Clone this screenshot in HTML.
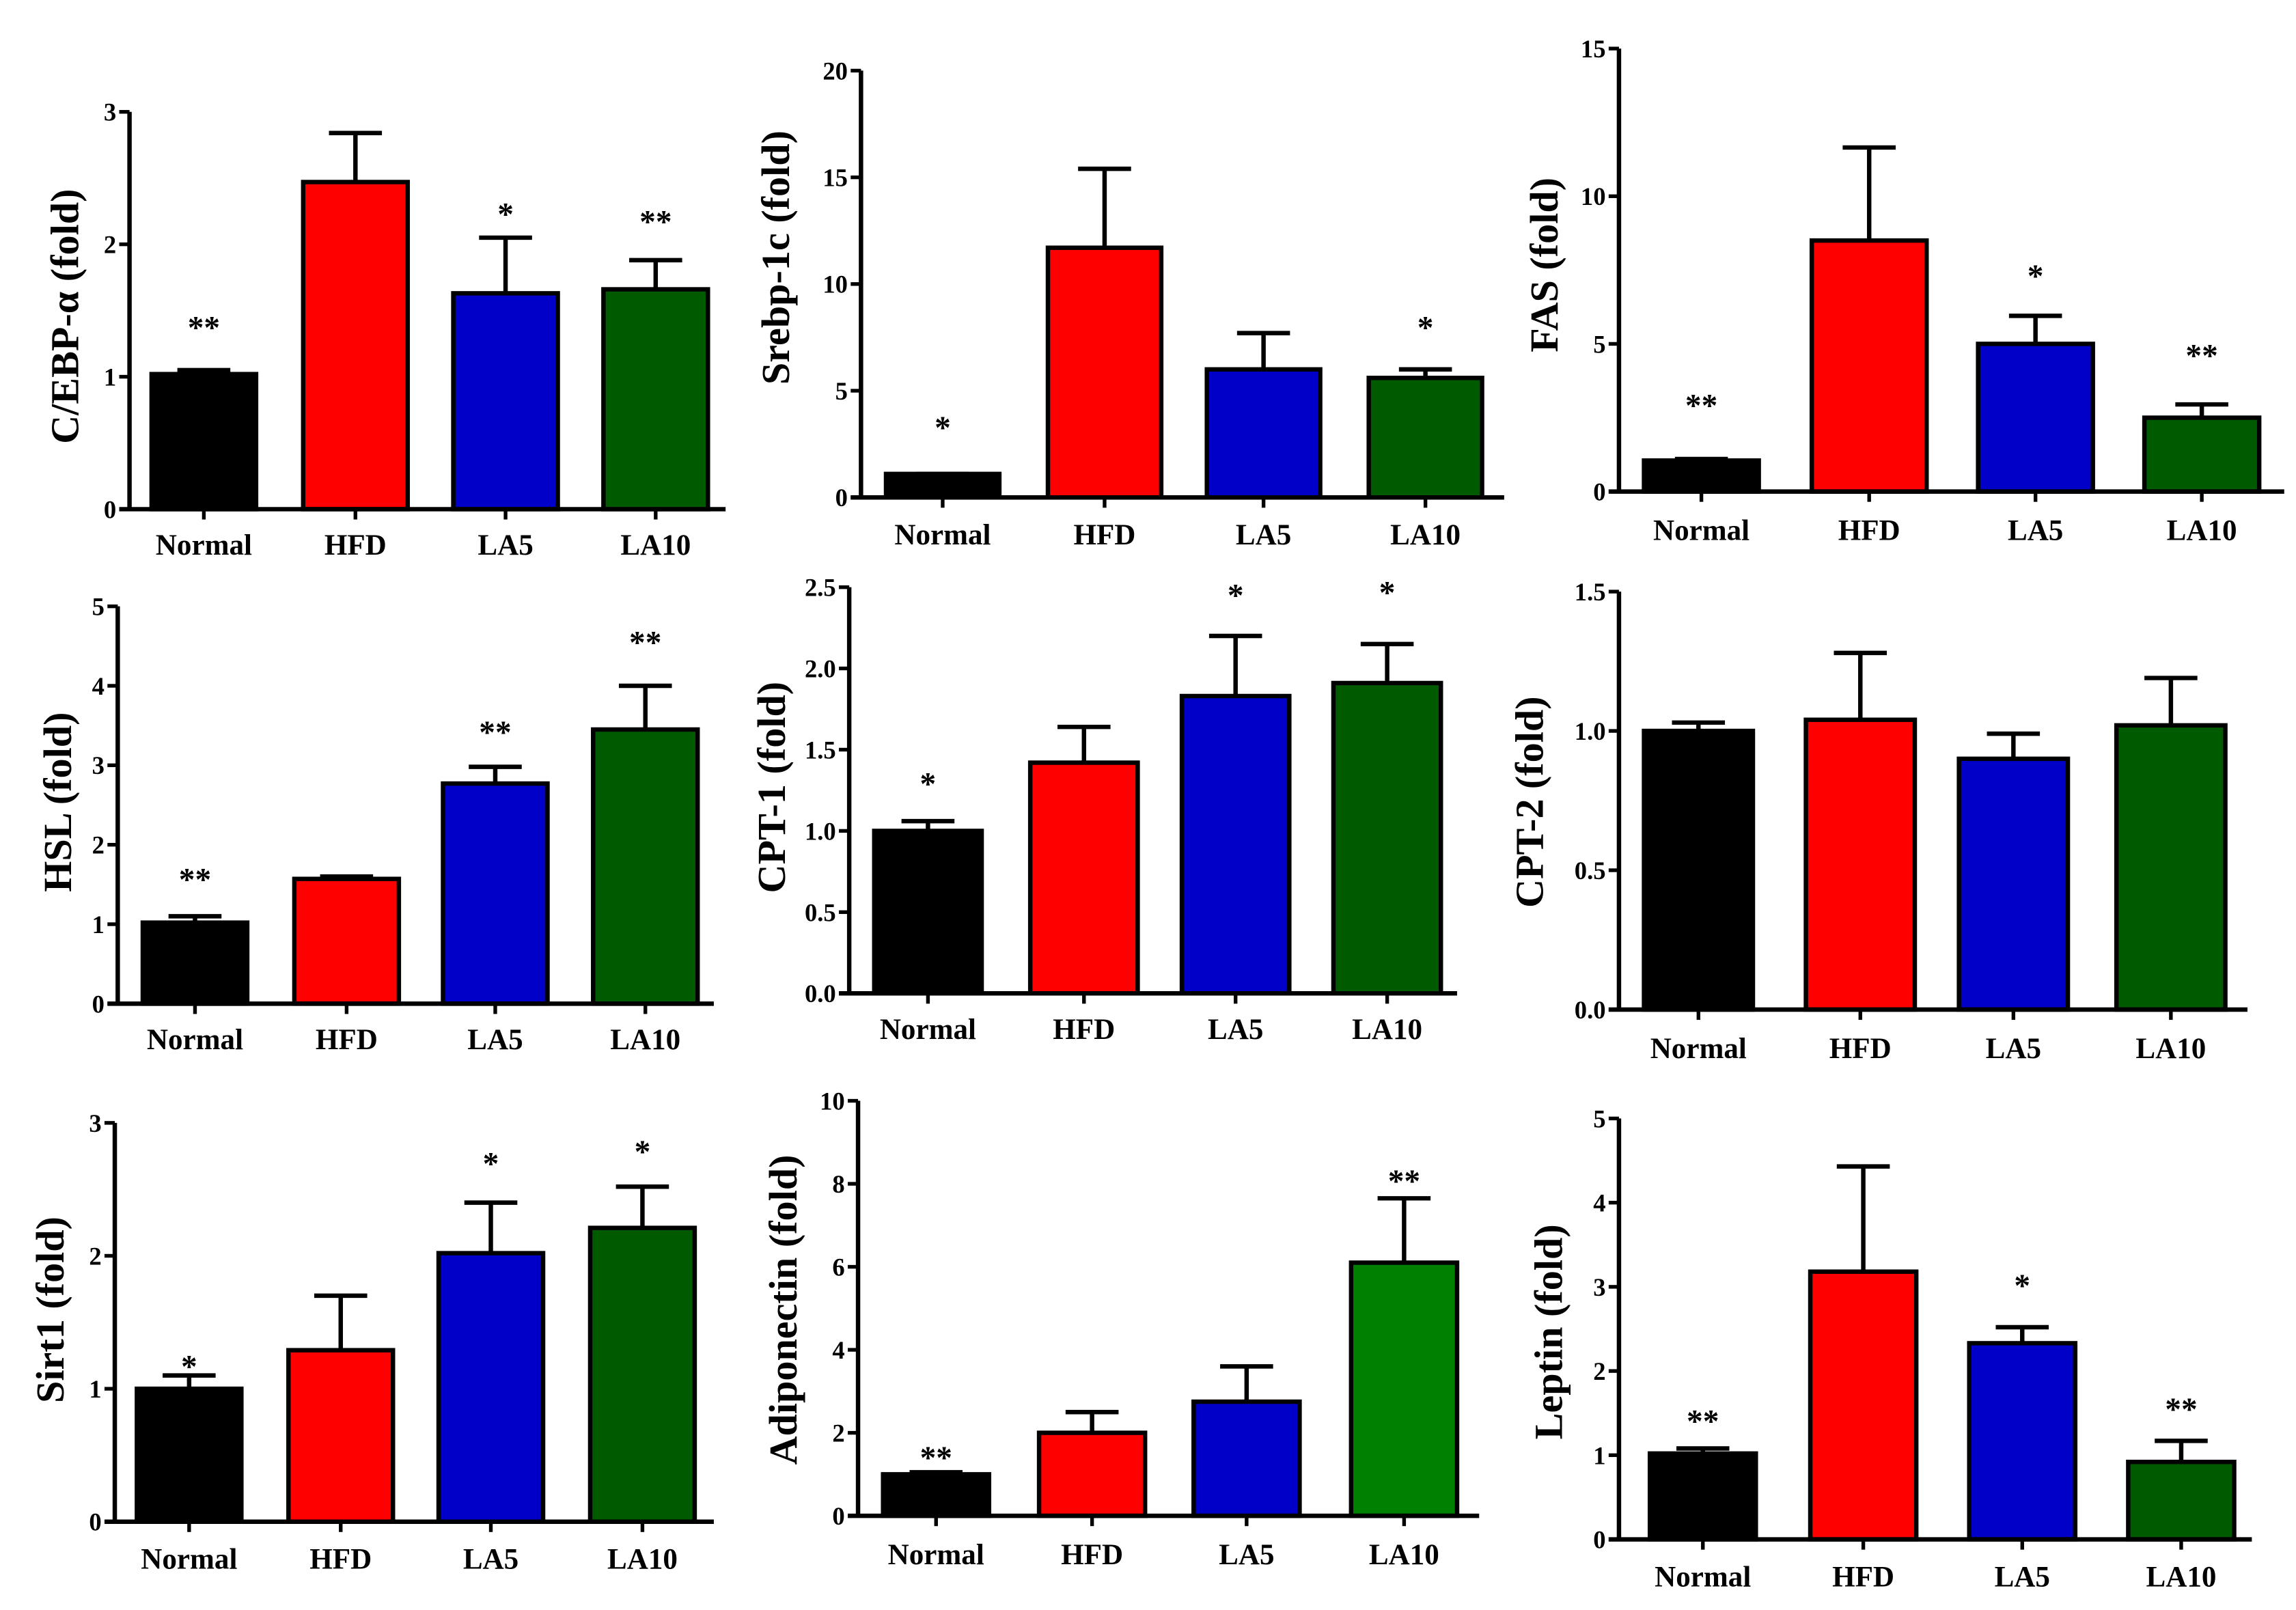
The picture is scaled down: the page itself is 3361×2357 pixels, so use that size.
<!DOCTYPE html>
<html><head><meta charset="utf-8"><style>
html,body{margin:0;padding:0;background:#fff;}
svg{display:block;}
text{font-family:"Liberation Serif",serif;font-weight:bold;fill:#000;}
</style></head><body>
<svg id="fig" width="3361" height="2357" viewBox="0 0 1560 1094" preserveAspectRatio="none" xmlns="http://www.w3.org/2000/svg"></svg>
<script>
const categories = ["Normal","HFD","LA5","LA10"];
const titles = ["C/EBP-α (fold)","Srebp-1c (fold)","FAS (fold)","HSL (fold)","CPT-1 (fold)","CPT-2 (fold)","Sirt1 (fold)","Adiponectin (fold)","Leptin (fold)"];
const means = [
  [1.02,2.47,1.63,1.66],
  [1.1,11.7,6.0,5.6],
  [1.05,8.5,5.0,2.5],
  [1.02,1.57,2.77,3.45],
  [1.0,1.42,1.83,1.91],
  [1.0,1.04,0.9,1.02],
  [1.0,1.29,2.02,2.21],
  [1.0,2.0,2.75,6.1],
  [1.02,3.18,2.33,0.92]
];
const upper = [
  [1.05,2.84,2.05,1.88],
  [1.1,15.4,7.7,6.0],
  [1.1,11.65,5.95,2.95],
  [1.1,1.6,2.98,4.0],
  [1.06,1.64,2.2,2.15],
  [1.03,1.28,0.99,1.19],
  [1.1,1.7,2.4,2.52],
  [1.05,2.5,3.6,7.65],
  [1.08,4.43,2.52,1.17]
];
const stars = [
  ["**","","*","**"],
  ["*","","","*"],
  ["**","","*","**"],
  ["**","","**","**"],
  ["*","","*","*"],
  ["","","",""],
  ["*","","*","*"],
  ["**","","","**"],
  ["**","","*","**"]
];
const ticks = [
  ["0","1","2","3"],
  ["0","5","10","15","20"],
  ["0","5","10","15"],
  ["0","1","2","3","4","5"],
  ["0.0","0.5","1.0","1.5","2.0","2.5"],
  ["0.0","0.5","1.0","1.5"],
  ["0","1","2","3"],
  ["0","2","4","6","8","10"],
  ["0","1","2","3","4","5"]
];
const starY = [
  [222,0,145,150],[290,0,0,222],[275,0,187,241],
  [597,0,497,436],[532,0,404,402],[0,0,0,0],
  [928,0,790,782],[990,0,0,802],[965,0,873,957]
];
// layout: axis x, y0, yTop, axis end, bar lefts, bar width, label x, label y, xlabel y
const layout = [
  {ax:88,y0:346,yt:76,ae:493,bl:[103,206,308,410],bw:71,lx:47,ly:215,xy:377},
  {ax:585,y0:338,yt:48,ae:1022,bl:[602,712,820,930],bw:77,lx:530,ly:175,xy:370},
  {ax:1100,y0:334,yt:33,ae:1552,bl:[1117,1231,1344,1457],bw:78,lx:1052,ly:180,xy:367},
  {ax:80,y0:682,yt:412,ae:485,bl:[97,200,301,403],bw:71,lx:42,ly:545,xy:713},
  {ax:577,y0:675,yt:399,ae:990,bl:[594,700,803,906],bw:73,lx:527,ly:535,xy:706},
  {ax:1100,y0:686,yt:402,ae:1527,bl:[1117,1227,1331,1438],bw:74,lx:1042,ly:545,xy:719},
  {ax:78,y0:1034,yt:763,ae:485,bl:[93,196,298,401],bw:71,lx:37,ly:890,xy:1066},
  {ax:583,y0:1030,yt:748,ae:1005,bl:[600,706,811,918],bw:72,lx:535,ly:890,xy:1063},
  {ax:1100,y0:1046,yt:760,ae:1530,bl:[1121,1230,1338,1446],bw:72,lx:1055,ly:905,xy:1078}
];
const colors = ["#000000","#ff0000","#0000c8","#005a00"];
const NS="http://www.w3.org/2000/svg";
const svg=document.getElementById('fig');
function mk(tag,attrs,parent){const e=document.createElementNS(NS,tag);for(const k in attrs)e.setAttribute(k,attrs[k]);(parent||svg).appendChild(e);return e;}
layout.forEach((L,p)=>{
  const g=mk('g',{});
  
  
  const tmax=parseFloat(ticks[p][ticks[p].length-1]);
  const yS=v=>L.y0-(v/tmax)*(L.y0-L.yt);
  // bars
  categories.forEach((c,i)=>{
    const x=L.bl[i], w=L.bw, cx=x+w/2;
    const top=yS(means[p][i]), up=yS(upper[p][i]);
    const eb=mk('line',{x1:cx,x2:cx,y1:top,y2:up,stroke:'#000','stroke-width':3},g);
    
    
    const cap=mk('line',{x1:cx-18,x2:cx+18,y1:up,y2:up,stroke:'#000','stroke-width':3},g);
    
    
    let fill=colors[i];
    if(p===7&&i===3) fill='#008000';
    const r=mk('rect',{x:x,y:top,width:w,height:L.y0-top,fill:fill,stroke:'#000','stroke-width':3},g);
    
    
    if(stars[p][i]){
      const s=mk('text',{x:cx,y:starY[p][i]+8,'text-anchor':'middle','font-size':22},g);
      s.textContent=stars[p][i].split('').join(' ').replace(/ /g,'');
      
      
    }
    const tk=mk('line',{x1:cx,x2:cx,y1:L.y0,y2:L.y0+7,stroke:'#000','stroke-width':2.5},g);
    
    
    const lb=mk('text',{x:cx,y:L.xy,'text-anchor':'middle','font-size':20},g);
    lb.textContent=c;
    
    
  });
  // axes
  const ya=mk('line',{x1:L.ax,x2:L.ax,y1:L.yt,y2:L.y0,stroke:'#000','stroke-width':3},g);
  
  
  const xa=mk('line',{x1:L.ax-7,x2:L.ae,y1:L.y0,y2:L.y0,stroke:'#000','stroke-width':3},g);
  
  
  ticks[p].forEach(t=>{
    const y=yS(parseFloat(t));
    const tl=mk('line',{x1:L.ax-7,x2:L.ax,y1:y,y2:y,stroke:'#000','stroke-width':2.5},g);
    
    
    const tt=mk('text',{x:L.ax-9,y:y+6,'text-anchor':'end','font-size':17},g);
    tt.textContent=t;
    
    
  });
  const yt=mk('text',{x:L.lx,y:L.ly,'text-anchor':'middle','font-size':27,transform:'rotate(-90 '+L.lx+' '+L.ly+')','dominant-baseline':'middle'},g);
  yt.textContent=titles[p];
  
  
});
</script>
</body></html>
